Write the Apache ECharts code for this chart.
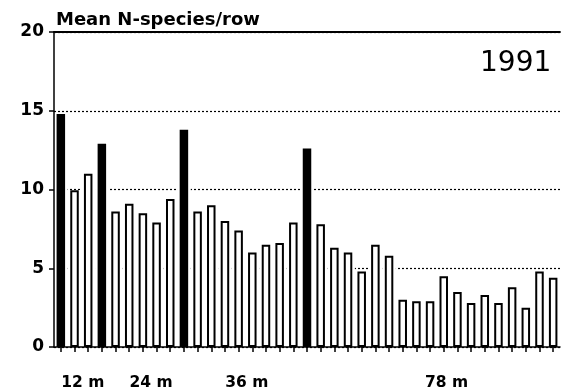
<!DOCTYPE html>
<html><head><meta charset="utf-8">
<script src="https://cdn.jsdelivr.net/npm/echarts@6/dist/echarts.min.js"></script>
<style>html,body{margin:0;padding:0;background:#fff}#c{width:561px;height:391px}</style>
</head><body><div id="c"></div>
<script>
const categories = ['1','2','3','4','5','6','7','8','9','10','11','12','13','14','15','16','17','18','19','20','21','22','23','24','25','26','27','28','29','30','31','32','33','34','35','36','37'];
const meanSpecies = [14.8, 9.95, 11.0, 12.9, 8.6, 9.1, 8.5, 7.9, 9.4, 13.8, 8.6, 9.0, 8.0, 7.4, 6.0, 6.5, 6.6, 7.9, 12.6, 7.8, 6.3, 6.0, 4.8, 6.5, 5.8, 3.0, 2.9, 2.9, 4.5, 3.5, 2.8, 3.3, 2.8, 3.8, 2.5, 4.8, 4.4];
const solidBars = [0, 3, 9, 18];
const yMin = 0, yMax = 20, yStep = 5;
const groupLabels = ['12 m', '24 m', '36 m', '78 m'];
const groupAt = [1.6, 6.6, 13.6, 28.2];
const yearLabel = '1991';
const yTitle = 'Mean N-species/row';

const FONT = '"DejaVu Sans", sans-serif';
const chart = echarts.init(document.getElementById('c'), null, {renderer: 'canvas'});
chart.setOption({
  animation: false,
  backgroundColor: '#fff',
  title: [
    {text: yTitle, left: 51, top: 6, textStyle: {fontFamily: FONT, fontSize: 18, fontWeight: 'bold', color: '#000'}},
    {text: yearLabel, left: 480, top: 50, padding: 0, textStyle: {fontFamily: FONT, fontSize: 28, fontWeight: 'normal', color: '#000'}}
  ],
  grid: {left: 54, right: 1, top: 32, bottom: 43, containLabel: false},
  xAxis: [
    {type: 'category', data: categories, position: 'bottom', z: 5,
      axisLine: {show: true, onZero: false, lineStyle: {color: '#000', width: 1.5}},
      axisTick: {show: true, alignWithLabel: true, interval: 0, length: 5, lineStyle: {color: '#000', width: 1.5}},
      axisLabel: {show: false}, splitLine: {show: false}},
    {type: 'category', data: categories, position: 'top', z: 5,
      axisLine: {show: true, onZero: false, lineStyle: {color: '#000', width: 1.8}},
      axisTick: {show: false}, axisLabel: {show: false}, splitLine: {show: false}},
    {type: 'value', min: -0.5, max: categories.length - 0.5, position: 'bottom', z: 5,
      axisLine: {show: false, onZero: false}, axisTick: {show: false}, splitLine: {show: false},
      axisLabel: {show: true, customValues: groupAt, margin: 28,
        formatter: v => { const i = groupAt.indexOf(v); return i >= 0 ? groupLabels[i] : ''; },
        fontFamily: FONT, fontSize: 15.5, fontWeight: 'bold', color: '#000'}}
  ],
  yAxis: [
    {type: 'value', min: yMin, max: yMax, interval: yStep, position: 'left', z: 0,
      axisLine: {show: false}, axisTick: {show: false}, axisLabel: {show: false},
      splitLine: {show: true, lineStyle: {color: '#000', width: 1.2, type: [2, 2]}}},
    {type: 'value', min: yMin, max: yMax, interval: yStep, position: 'left', z: 5,
      axisLine: {show: true, onZero: false, lineStyle: {color: '#000', width: 1.5}},
      axisTick: {show: true, length: 5, lineStyle: {color: '#000', width: 1.5}},
      axisLabel: {show: true, margin: 10, fontFamily: FONT, fontSize: 17, fontWeight: 'bold', color: '#000'},
      splitLine: {show: false}}
  ],
  series: [
    {type: 'bar', xAxisIndex: 1, yAxisIndex: 0, data: meanSpecies, barWidth: '100%', z: 2,
      itemStyle: {color: '#fff', borderWidth: 0}, silent: true},
    {type: 'bar', xAxisIndex: 0, yAxisIndex: 0, barWidth: 8.5, z: 3,
      data: meanSpecies.map((v, i) => ({value: v, itemStyle: solidBars.includes(i) ? {color: '#000', borderColor: '#000', borderWidth: 2} : {color: '#fff', borderColor: '#000', borderWidth: 2}}))}
  ]
});
</script></body></html>
